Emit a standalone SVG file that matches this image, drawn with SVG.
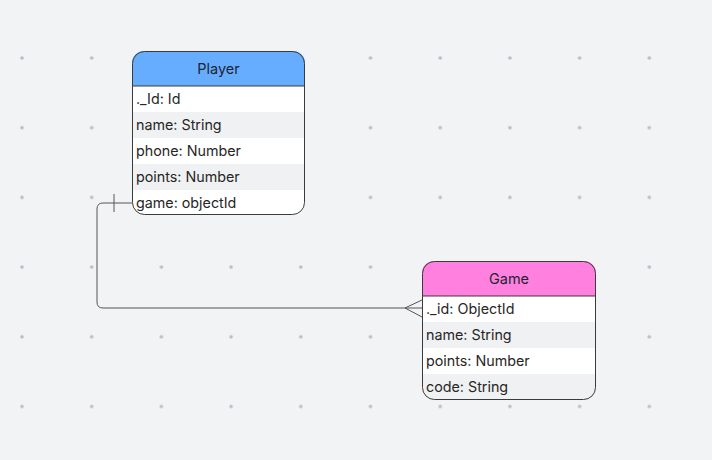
<svg xmlns="http://www.w3.org/2000/svg" width="712" height="460" viewBox="0 0 712 460">
<defs>
<pattern id="dots" x="0" y="0" width="69.7" height="69.7" patternUnits="userSpaceOnUse" patternTransform="translate(22 58)">
<circle cx="0" cy="0" r="1.8" fill="#b9bcc2"/>
<circle cx="69.7" cy="0" r="1.8" fill="#b9bcc2"/>
<circle cx="0" cy="69.7" r="1.8" fill="#b9bcc2"/>
<circle cx="69.7" cy="69.7" r="1.8" fill="#b9bcc2"/>
</pattern>
<clipPath id="cp1"><rect x="132" y="51" width="173" height="164" rx="12"/></clipPath>
<clipPath id="cp2"><rect x="422" y="261" width="174" height="139" rx="12"/></clipPath>
</defs>
<style>
text{font-family:Inter,"Liberation Sans",sans-serif;font-size:14.3px;fill:#262626}
.hd{text-anchor:middle;font-size:14.5px;fill:#1e2433}
.w{fill:#ffffff}
.g{fill:#f0f1f3}
.bd{fill:none;stroke:#3a3a3a;stroke-width:1}
.cn{fill:none;stroke:#555;stroke-width:1}
</style>
<rect width="712" height="460" fill="#f2f3f5"/>
<rect width="712" height="460" fill="url(#dots)"/>
<g id="connectors">
<path class="cn" d="M132 203 H103 Q97 203 97 209 V302 Q97 308 103 308 H422"/>
<path class="cn" d="M114 194 V212"/>
<path class="cn" d="M422 300 L405 308 L422 317"/>
</g>
<g id="player">
<g clip-path="url(#cp1)">
<rect x="132" y="51" width="173" height="35" fill="#66adff"/>
<rect class="w" x="132" y="86" width="173" height="26"/>
<rect class="g" x="132" y="112" width="173" height="26"/>
<rect class="w" x="132" y="138" width="173" height="26"/>
<rect class="g" x="132" y="164" width="173" height="26"/>
<rect class="w" x="132" y="190" width="173" height="25"/>
<line x1="132" y1="86" x2="305" y2="86" stroke="#3a3a3a" stroke-width="1"/>
</g>
<rect class="bd" x="132.5" y="51.5" width="172" height="163" rx="12"/>
<text class="hd" x="218.5" y="73.5">Player</text>
<text x="136" y="104">._Id: Id</text>
<text x="136" y="130">name: String</text>
<text x="136" y="156">phone: Number</text>
<text x="136" y="182">points: Number</text>
<text x="136" y="208">game: objectId</text>
</g>
<g id="game">
<g clip-path="url(#cp2)">
<rect x="422" y="261" width="174" height="35" fill="#ff80de"/>
<rect class="w" x="422" y="296" width="174" height="26"/>
<rect class="g" x="422" y="322" width="174" height="26"/>
<rect class="w" x="422" y="348" width="174" height="26"/>
<rect class="g" x="422" y="374" width="174" height="26"/>
<line x1="422" y1="296" x2="596" y2="296" stroke="#3a3a3a" stroke-width="1"/>
</g>
<rect class="bd" x="422.5" y="261.5" width="173" height="138" rx="12"/>
<text class="hd" x="509" y="283.5">Game</text>
<text x="426" y="314">._id: ObjectId</text>
<text x="426" y="340">name: String</text>
<text x="426" y="366">points: Number</text>
<text x="426" y="392">code: String</text>
</g>
</svg>
